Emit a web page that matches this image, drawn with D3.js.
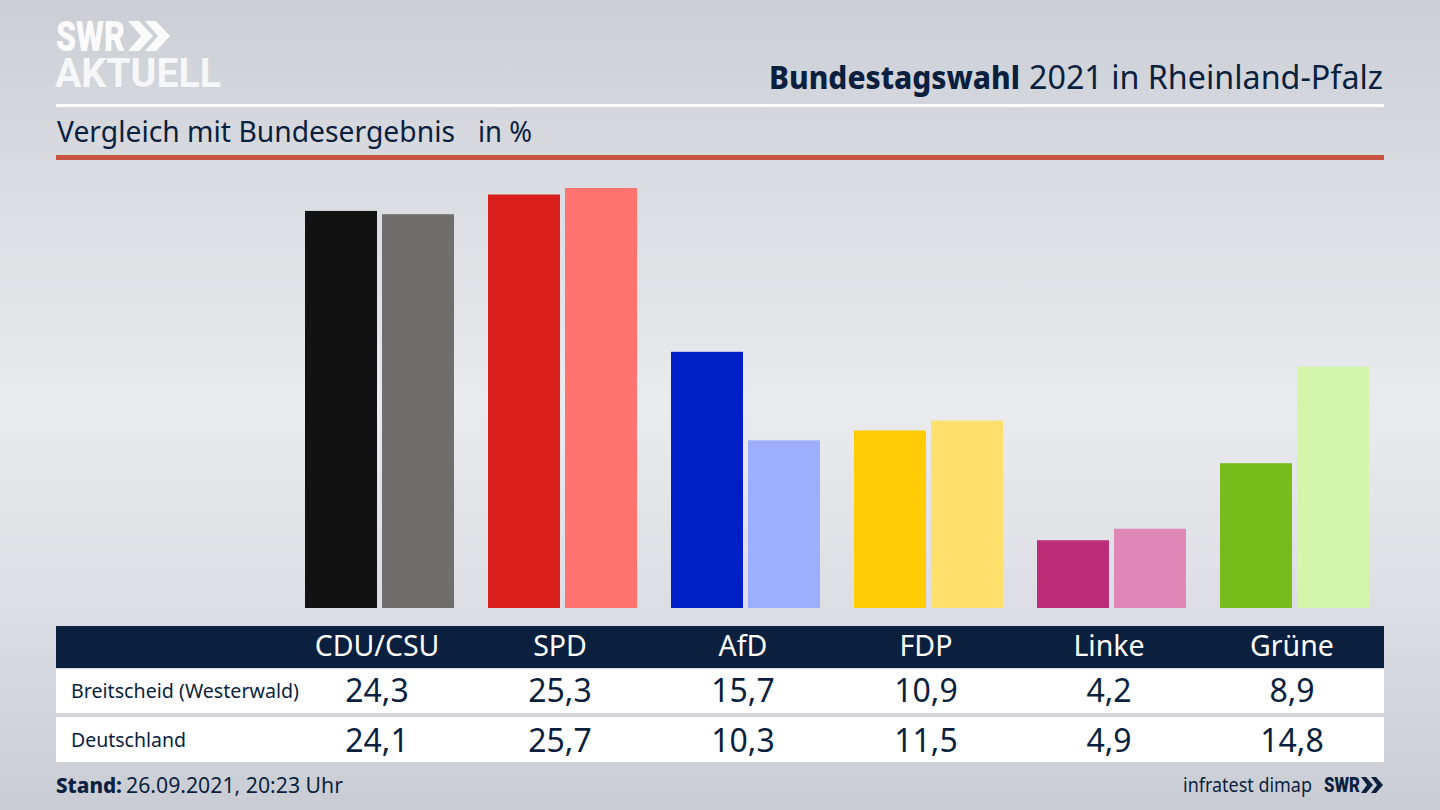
<!DOCTYPE html>
<html>
<head>
<meta charset="utf-8">
<script src="https://cdn.jsdelivr.net/npm/d3@7"></script>
<style>
html, body { margin: 0; padding: 0; background: #d5d8de; }
svg { display: block; }
text { font-family: "Noto Sans", sans-serif; fill: #0b1f3f; }
</style>
</head>
<body>
<svg width="1440" height="810"></svg>
<script>
// data
var parties = ['CDU/CSU', 'SPD', 'AfD', 'FDP', 'Linke', 'Grüne'];
var rows = ['Breitscheid (Westerwald)', 'Deutschland'];
var localValues = [24.3, 25.3, 15.7, 10.9, 4.2, 8.9];
var nationalValues = [24.1, 25.7, 10.3, 11.5, 4.9, 14.8];
var localColors = ['#121212', '#d81f1c', '#001fc4', '#ffcc05', '#bb2d77', '#78bc1b'];
var nationalColors = ['#6f6e6c', '#ff7370', '#9eaeff', '#ffe06d', '#df88b8', '#d4f6aa'];

var svg = d3.select('svg');
var navy = '#0b1f3f';

// fitted text: same font, squeezed to the width seen in the picture
function fitText(x, y, size, width, weight, str) {
    return svg.append('text')
        .attr('x', x).attr('y', y)
        .attr('textLength', width)
        .attr('lengthAdjust', 'spacingAndGlyphs')
        .style('font-size', size + 'px')
        .style('font-weight', weight)
        .text(str);
}

// background
var defs = svg.append('defs');
var grad = defs.append('linearGradient')
    .attr('id', 'bg')
    .attr('x1', 0).attr('y1', 0).attr('x2', 0).attr('y2', 1);
grad.append('stop').attr('offset', '0%').attr('stop-color', '#cbcfd5');
grad.append('stop').attr('offset', '21%').attr('stop-color', '#d9dbe0');
grad.append('stop').attr('offset', '50%').attr('stop-color', '#e9ebef');
grad.append('stop').attr('offset', '75%').attr('stop-color', '#dcdee3');
grad.append('stop').attr('offset', '100%').attr('stop-color', '#c9cdd3');
svg.append('rect').attr('width', 1440).attr('height', 810).attr('fill', 'url(#bg)');

// scales
var xParty = d3.scalePoint().domain(parties).range([377, 1292]);
var xSeries = d3.scaleBand().domain(rows).range([-72, 77]).paddingInner(5 / 77);
var yScale = d3.scaleLinear().domain([0, 25.7]).range([609, 188]);
var barBottom = 608;

// logo
var logo = svg.append('g').attr('class', 'logo');
logo.append('text')
    .attr('x', 56).attr('y', 51)
    .style('font-family', 'Roboto').style('font-weight', 900).style('font-size', '42px')
    .style('fill', '#fbfbfc').attr('textLength', 69).attr('lengthAdjust', 'spacingAndGlyphs')
    .text('SWR');
logo.append('text')
    .attr('x', 55).attr('y', 87)
    .style('font-family', 'Roboto').style('font-weight', 700).style('font-size', '41px')
    .style('fill', '#f6f7f8').attr('textLength', 166).attr('lengthAdjust', 'spacingAndGlyphs')
    .text('AKTUELL');
logo.selectAll('path.chev')
    .data([128, 145])
    .enter().append('path')
    .attr('class', 'chev')
    .attr('d', function(d) {
        return 'M' + d + ',21h11l14,15l-14,15h-11l13,-15z';
    })
    .attr('fill', '#fbfbfc');

// header
fitText(769, 89, 32, 251, 800, 'Bundestagswahl');
fitText(1029, 89, 33, 354, 400, '2021 in Rheinland-Pfalz');
svg.append('rect').attr('x', 56).attr('y', 104).attr('width', 1328).attr('height', 3).attr('fill', '#fff');
fitText(57, 142, 28.5, 398, 400, 'Vergleich mit Bundesergebnis');
fitText(478, 142, 28.5, 54, 400, 'in %');
svg.append('rect').attr('x', 56).attr('y', 155).attr('width', 1328).attr('height', 5).attr('fill', '#c8533f');

// bars
var groups = svg.append('g').selectAll('g')
    .data(parties)
    .enter().append('g')
    .attr('transform', function(d) { return 'translate(' + xParty(d) + ',0)'; });

groups.append('rect')
    .attr('x', xSeries(rows[0]))
    .attr('width', xSeries.bandwidth())
    .attr('y', function(d, i) { return yScale(localValues[i]); })
    .attr('height', function(d, i) { return barBottom - yScale(localValues[i]); })
    .attr('fill', function(d, i) { return localColors[i]; });

groups.append('rect')
    .attr('x', xSeries(rows[1]))
    .attr('width', xSeries.bandwidth())
    .attr('y', function(d, i) { return yScale(nationalValues[i]); })
    .attr('height', function(d, i) { return barBottom - yScale(nationalValues[i]); })
    .attr('fill', function(d, i) { return nationalColors[i]; });

// table
svg.append('rect').attr('x', 56).attr('y', 626).attr('width', 1328).attr('height', 42).attr('fill', navy);
svg.append('rect').attr('x', 56).attr('y', 669).attr('width', 1328).attr('height', 44).attr('fill', '#fff');
svg.append('rect').attr('x', 56).attr('y', 717).attr('width', 1328).attr('height', 45).attr('fill', '#fff');

svg.append('g').selectAll('text')
    .data(parties)
    .enter().append('text')
    .attr('x', function(d) { return xParty(d); })
    .attr('y', 656)
    .attr('text-anchor', 'middle')
    .style('font-size', '28.5px')
    .style('fill', '#fff')
    .text(function(d) { return d; });

var labelY = [698, 747];
var valueY = [702, 752];
var labelWidth = [228, 115];
var rowValues = [localValues, nationalValues];
var fmt = function(v) { return d3.format('.1f')(v).replace('.', ','); };

rows.forEach(function(row, r) {
    fitText(71, labelY[r], 20, labelWidth[r], 400, row);
    svg.append('g').selectAll('text')
        .data(rowValues[r])
        .enter().append('text')
        .attr('x', function(d, i) { return xParty(parties[i]); })
        .attr('y', valueY[r])
        .attr('text-anchor', 'middle')
        .style('font-size', '32px')
        .text(fmt);
});

// footer
fitText(56, 793, 22, 66, 800, 'Stand:');
fitText(126, 793, 22, 217, 400, '26.09.2021, 20:23 Uhr');
fitText(1183, 792, 20, 129, 400, 'infratest dimap');
svg.append('text')
    .attr('x', 1324).attr('y', 792)
    .style('font-family', 'Roboto').style('font-weight', 900).style('font-size', '20px')
    .attr('textLength', 36).attr('lengthAdjust', 'spacingAndGlyphs')
    .text('SWR');
svg.selectAll('path.chev-small')
    .data([1361, 1371])
    .enter().append('path')
    .attr('class', 'chev-small')
    .attr('d', function(d) {
        return 'M' + d + ',777h5l7,8l-7,8h-5l6,-8z';
    })
    .attr('fill', navy);
</script>
</body>
</html>
